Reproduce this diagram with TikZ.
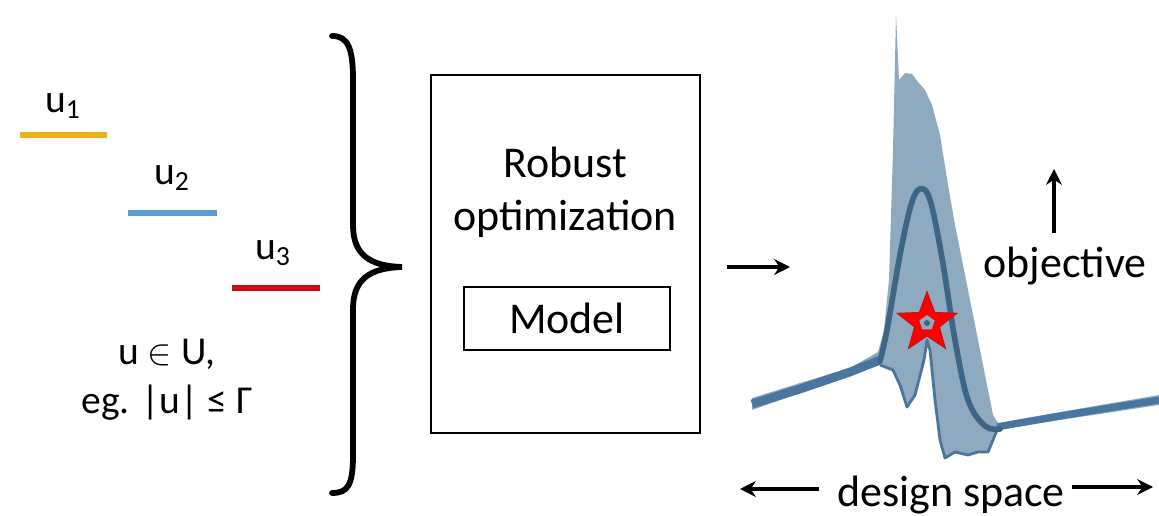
\documentclass[tikz,border=0pt]{standalone}
\usepackage{fontspec}
\setmainfont{Carlito}
\usepackage{tikz}
\usetikzlibrary{shapes.geometric,arrows.meta}
\definecolor{ugold}{RGB}{237,177,32}
\definecolor{ublue}{RGB}{91,155,213}
\definecolor{ured}{RGB}{200,16,24}
\definecolor{bandfill}{RGB}{143,169,190}
\definecolor{bandline}{RGB}{72,118,158}
\definecolor{meanline}{RGB}{60,102,132}

\begin{document}
\begin{tikzpicture}[x=0.02cm, y=-0.02cm, >={Stealth[length=9pt,width=9pt]},
  lbl/.style={font=\fontsize{22.5}{27}\selectfont, inner sep=0pt},
  big/.style={font=\fontsize{25}{30}\selectfont, inner sep=0pt},
  uline/.style={line width=3.2pt},
  arr/.style={->, line width=2.2pt}]
  \useasboundingbox (0,0) rectangle (1159,516);

  % uncertainty levels
  \node (u1) [lbl] at (63,106) {u\textsubscript{1}};
  \draw[uline, ugold] (20,135) -- (107,135);
  \node (u2) [lbl] at (172,178) {u\textsubscript{2}};
  \draw[uline, ublue] (128,213) -- (217,213);
  \node (u3) [lbl] at (273,253) {u\textsubscript{3}};
  \draw[uline, ured] (232,288) -- (320,288);
  \node (set) [lbl, align=center] at (167,380) {u $\in$ U,\\[1pt]eg. |u| ≤ Γ};

  % brace
  \draw[line width=3.3pt, line cap=round]
    (332,36) .. controls (348,36) and (353,48) .. (353,80) -- (353,225)
    .. controls (353,255) and (370,266) .. (402,267)
    .. controls (370,268) and (353,279) .. (353,309) -- (353,455)
    .. controls (353,485) and (348,493) .. (332,493);

  % optimization box
  \draw[line width=1.3pt] (431,75) rectangle (700,433);
  \node (rob) [big, align=center] at (565,192) {Robust\\optimization};
  \node (model) [big, draw, line width=1.3pt, minimum width=4.12cm, minimum height=1.26cm] at (567,318.5) {Model};

  \coordinate (a0) at (727,267);
  \coordinate (a1) at (790,267);
  \draw[arr] (a0) -- (a1);

  % objective landscape
  \fill[bandfill]
    (752,398) -- (800,383) -- (850,368) -- (878,352) -- (884,330) -- (889,280)
    -- (893,150) -- (896,15) -- (899,80) -- (905,73) -- (912,74) -- (918,82)
    -- (925,90) -- (932,105) -- (940,135) -- (948,185) -- (955,225) -- (962,260)
    -- (970,300) -- (978,340) -- (986,380) -- (993,415) -- (998,423)
    -- (1060,412) -- (1159,395) -- (1159,405) -- (1060,420) -- (997,430)
    -- (993,440) -- (988,452) -- (978,452) -- (968,455) -- (955,452)
    -- (945,458) -- (940,440) -- (935,400) -- (930,350) -- (927,340)
    -- (924,360) -- (915,395) -- (907,407) -- (900,385) -- (893,370)
    -- (880,365) -- (850,375) -- (800,393) -- (752,410) -- cycle;
  \draw[bandline, line width=1.6pt, line join=round]
    (997,430) -- (993,440) -- (988,452) -- (978,452) -- (968,455) -- (955,452)
    -- (945,458) -- (940,440) -- (935,400) -- (930,350) -- (927,340)
    -- (924,360) -- (915,395) -- (907,407) -- (900,385) -- (893,370) -- (880,365);
  \draw[bandline, line width=5pt] (752,404) -- (800,389) -- (850,372) -- (880,360);
  \draw[bandline, line width=4pt] (997,427) -- (1060,416) -- (1159,400);
  \draw[meanline, line width=3.2pt, line cap=round]
    plot[smooth, tension=0.6] coordinates {(880,361) (887,330) (900,255)
      (911,205) (920,189) (930,200) (942,258) (955,340) (968,400) (985,426) (1000,429)};
  \node (opt) [star, star points=5, star point ratio=2.4, minimum size=1.25cm,
    inner sep=0pt, fill=red, draw=ured, line width=0.6pt] at (927,323) {};
  \node (optc) [regular polygon, regular polygon sides=5, minimum size=0.32cm,
    inner sep=0pt, fill=bandfill] at (opt.center) {};
  \fill[meanline] (opt.center) circle (3);

  \coordinate (o0) at (1054,233);
  \coordinate (o1) at (1054,169);
  \draw[arr] (o0) -- (o1);
  \node (obj) [big] at (1065,266) {objective};

  \node (ds) [big] at (951,495) {design space};
  \coordinate (l0) at (819,489);
  \coordinate (l1) at (740,489);
  \coordinate (r0) at (1072,487);
  \coordinate (r1) at (1153,487);
  \draw[arr] (l0) -- (l1);
  \draw[arr] (r0) -- (r1);
\end{tikzpicture}
\end{document}
